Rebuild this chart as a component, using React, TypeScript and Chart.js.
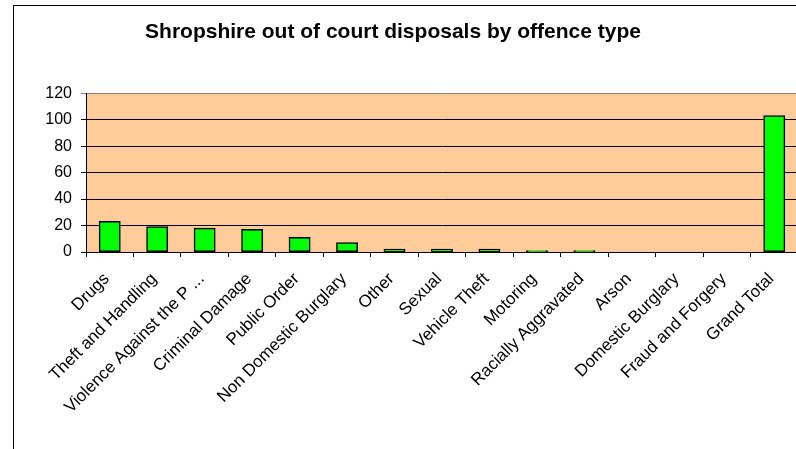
import React, { useEffect, useRef } from 'react';
import { Chart, registerables } from 'chart.js';

Chart.register(...registerables);

const TITLE = 'Shropshire out of court disposals by offence type';

const categories = [
  'Drugs',
  'Theft and Handling',
  'Violence Against the P ...',
  'Criminal Damage',
  'Public Order',
  'Non Domestic Burglary',
  'Other',
  'Sexual',
  'Vehicle Theft',
  'Motoring',
  'Racially Aggravated',
  'Arson',
  'Domestic Burglary',
  'Fraud and Forgery',
  'Grand Total',
];

const values = [23, 19, 18, 17, 11, 7, 2, 2, 2, 1, 1, 0, 0, 0, 103];

const yMin = 0;
const yMax = 120;
const yStep = 20;

const FONT = '"Liberation Sans", Arial, sans-serif';

const plotBackground = {
  id: 'plotBackground',
  beforeDraw(chart: any) {
    const { ctx, chartArea: a } = chart;
    ctx.save();
    ctx.fillStyle = '#FFCC99';
    ctx.fillRect(a.left, a.top, a.right - a.left, a.bottom - a.top);
    ctx.restore();
  },
};

const CANVAS_LEFT = -12;
const CANVAS_W = 816;
const CANVAS_H = 449;

export default function App() {
  const ref = useRef<HTMLCanvasElement | null>(null);

  useEffect(() => {
    if (!ref.current) return;
    const chart = new Chart(ref.current, {
      type: 'bar',
      data: {
        labels: categories,
        datasets: [
          {
            data: values,
            backgroundColor: '#00FF00',
            borderColor: '#000000',
            borderWidth: 1.5,
            borderSkipped: false,
            inflateAmount: 0.5,
            barPercentage: 0.44,
            categoryPercentage: 1,
          },
        ],
      },
      plugins: [plotBackground],
      options: {
        animation: false,
        responsive: false,
        maintainAspectRatio: false,
        devicePixelRatio: 1,
        layout: { padding: { left: 0, right: 6, top: 0, bottom: 0 } },
        plugins: {
          legend: { display: false },
          tooltip: { enabled: false },
          title: {
            display: true,
            text: TITLE,
            color: '#000000',
            font: { family: FONT, size: 21, weight: 'bold' },
            padding: { top: 20, bottom: 48 },
          },
        },
        scales: {
          x: {
            type: 'category',
            offset: true,
            grid: {
              offset: true,
              drawOnChartArea: false,
              color: '#000000',
              tickLength: 5,
            },
            border: { color: '#000000', width: 1 },
            ticks: {
              autoSkip: false,
              minRotation: 45,
              maxRotation: 45,
              color: '#000000',
              font: { family: FONT, size: 17 },
              padding: 12,
              labelOffset: -3,
            },
            afterFit: (s: any) => {
              s.height = CANVAS_H - 252;
            },
          },
          y: {
            min: yMin,
            max: yMax,
            ticks: {
              stepSize: yStep,
              color: '#000000',
              font: { family: FONT, size: 16 },
              padding: 9,
            },
            grid: {
              color: (c: any) => (c.tick && c.tick.value === yMax ? '#808080' : '#000000'),
              tickLength: 5,
            },
            border: { color: '#000000', width: 1 },
            afterFit: (s: any) => {
              s.width = 86 - CANVAS_LEFT;
            },
          },
        },
      },
    } as any);
    return () => chart.destroy();
  }, []);

  return (
    <div
      style={{
        position: 'fixed',
        left: 0,
        top: 0,
        width: 796,
        height: 449,
        overflow: 'hidden',
        background: '#ffffff',
      }}
    >
      <div
        style={{
          position: 'absolute',
          left: 13,
          top: 5,
          width: 900,
          height: 600,
          border: '1px solid #000000',
        }}
      />
      <canvas
        ref={ref}
        width={CANVAS_W}
        height={CANVAS_H}
        style={{
          position: 'absolute',
          left: CANVAS_LEFT,
          top: 0,
          width: CANVAS_W,
          height: CANVAS_H,
        }}
      />
    </div>
  );
}
